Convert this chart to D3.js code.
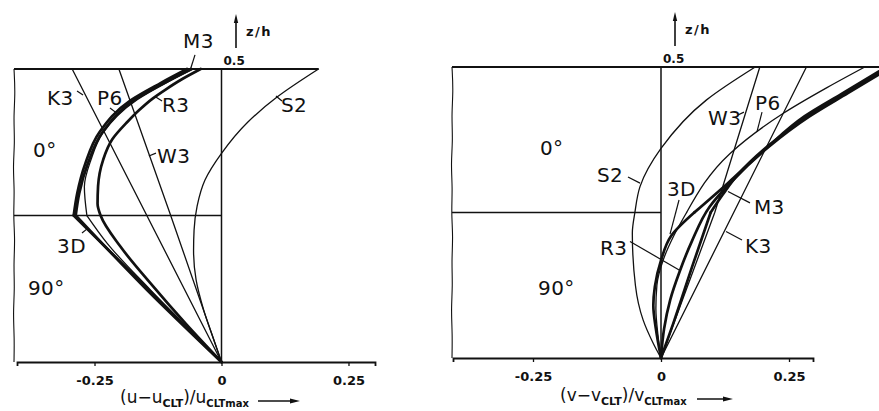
<!DOCTYPE html>
<html>
<head>
<meta charset="utf-8">
<script src="https://cdn.jsdelivr.net/npm/d3@7/dist/d3.min.js"></script>
<style>
  html, body { margin: 0; padding: 0; background: #fff; }
  svg { display: block; }
  text { font-family: "DejaVu Sans", "Liberation Sans", sans-serif; fill: #111; }
</style>
</head>
<body>
<svg id="chart" width="879" height="411"></svg>
<script>
// Through-thickness profiles of a [0/90] cross-ply laminate.
// Every point is [normalised displacement, z/h]; z/h = 0.5 is the top face.

const tickValues = [-0.25, 0, 0.25];
const tickLabels = ["-0.25", "0", "0.25"];
const topLabel = "0.5";
const layerNames = ["0°", "90°"];

// ---- in-plane displacement u ----
const u_S2 = [[0.191, 0.5], [0.110, 0.405], [0.052, 0.319], [0, 0.212], [-0.0325, 0.121], [-0.048, 0.032],
              [-0.054, -0.05], [-0.055, -0.12], [-0.05, -0.22], [-0.035, -0.323], [-0.015, -0.425], [0, -0.5]];
const u_3D_0 = [[-0.068, 0.5], [-0.12, 0.452], [-0.179, 0.393], [-0.24, 0.285], [-0.268, 0.178], [-0.284, 0.076], [-0.291, 0]];
const u_3D_90 = [[-0.291, 0], [0, -0.5]];
const u_M3_0 = [[-0.060, 0.5], [-0.113, 0.452], [-0.173, 0.392], [-0.234, 0.285], [-0.263, 0.178], [-0.280, 0.076], [-0.287, 0]];
const u_M3_90 = [[-0.287, 0], [-0.146, -0.255], [0, -0.5]];
const u_P6_0 = [[-0.055, 0.5], [-0.106, 0.455], [-0.166, 0.395], [-0.234, 0.28], [-0.257, 0.19], [-0.270, 0.098], [-0.265, 0]];
const u_P6_90 = [[-0.265, 0], [-0.225, -0.095], [-0.14, -0.254], [0, -0.5]];
const u_R3 = [[-0.041, 0.5], [-0.078, 0.465], [-0.11, 0.43], [-0.135, 0.4], [-0.162, 0.36], [-0.185, 0.32],
              [-0.215, 0.26], [-0.233, 0.19], [-0.243, 0.1], [-0.244, 0.04], [-0.238, 0], [-0.199, -0.106],
              [-0.14, -0.231], [-0.07, -0.37], [0, -0.5]];
const u_K3 = [[-0.294, 0.5], [0, -0.5]];
const u_W3 = [[-0.202, 0.5], [-0.100, 0], [0, -0.5]];

// ---- in-plane displacement v ----
const v_S2 = [[0.184, 0.5], [0.089, 0.387], [0, 0.22], [-0.041, 0.089], [-0.051, 0], [-0.056, -0.071],
              [-0.05, -0.25], [-0.035, -0.369], [-0.015, -0.45], [0, -0.5]];
const v_K3 = [[0.284, 0.5], [0, -0.5]];
const v_W3 = [[0.193, 0.5], [0.105, 0], [0, -0.5]];
const v_P6_0 = [[0.398, 0.5], [0.325, 0.43], [0.239, 0.341], [0.135, 0.203], [0.05, 0]];
const v_P6_90 = [[0.05, 0], [0.025, -0.08], [0.005, -0.16], [-0.008, -0.25], [-0.01, -0.33], [-0.006, -0.42], [0, -0.5]];
const v_3D_0 = [[0.44, 0.5], [0.355, 0.41], [0.28, 0.33], [0.205, 0.22], [0.13, 0.1], [0.065, 0]];
const v_3D_90 = [[0.065, 0], [0.02, -0.08], [0, -0.165], [-0.012, -0.255], [-0.015, -0.32], [-0.01, -0.4], [0, -0.5]];
const v_M3_0 = [[0.445, 0.5], [0.36, 0.41], [0.285, 0.329], [0.207, 0.226], [0.15, 0.13], [0.12, 0.06], [0.097, 0]];
const v_M3_90 = [[0.097, 0], [0.063, -0.175], [0.024, -0.381], [0, -0.5]];
const v_R3 = [[0.45, 0.5], [0.365, 0.41], [0.29, 0.33], [0.21, 0.225], [0.14, 0.11], [0.095, 0.02], [0.06, -0.1],
              [0.037, -0.2], [0.018, -0.3], [0.006, -0.4], [0, -0.5]];

// curve sets: each theory is one or more smooth pieces (layerwise theories break at the interface)
const uCurves = [
  { pieces: [u_S2], heavy: false },
  { pieces: [u_K3], heavy: false, straight: true },
  { pieces: [u_W3], heavy: false, straight: true },
  { pieces: [u_P6_0, u_P6_90], heavy: false },
  { pieces: [u_R3], heavy: true },
  { pieces: [u_M3_0, u_M3_90], heavy: true },
  { pieces: [u_3D_0, u_3D_90], heavy: true }
];
const vCurves = [
  { pieces: [v_S2], heavy: false },
  { pieces: [v_K3], heavy: false, straight: true },
  { pieces: [v_W3], heavy: false, straight: true },
  { pieces: [v_P6_0, v_P6_90], heavy: false },
  { pieces: [v_R3], heavy: true },
  { pieces: [v_M3_0, v_M3_90], heavy: true },
  { pieces: [v_3D_0, v_3D_90], heavy: true }
];

// curve names placed in [value, z/h] coordinates, with their leader lines
const uNotes = [
  { t: "M3", at: [-0.0758, 0.572], lead: [[-0.0522, 0.548], [-0.061, 0.5]] },
  { t: "K3", at: [-0.3435, 0.377], lead: [[-0.2844, 0.425], [-0.2726, 0.411]] },
  { t: "P6", at: [-0.245, 0.377], lead: [[-0.2195, 0.367], [-0.2037, 0.346]] },
  { t: "R3", at: [-0.117, 0.353], lead: [[-0.131, 0.406], [-0.117, 0.391]] },
  { t: "W3", at: [-0.127, 0.179], lead: [[-0.143, 0.203], [-0.129, 0.213]] },
  { t: "S2", at: [0.117, 0.353], lead: [[0.1073, 0.408], [0.119, 0.391]] },
  { t: "3D", at: [-0.3238, -0.128], lead: [[-0.2746, -0.06], [-0.2628, -0.043]] },
  { t: layerNames[0], at: [-0.371, 0.2] },
  { t: layerNames[1], at: [-0.381, -0.271] }
];
const vNotes = [
  { t: "S2", at: [-0.125, 0.105], lead: [[-0.0645, 0.122], [-0.041, 0.101]] },
  { t: "3D", at: [0.0117, 0.057], lead: [[0.0352, 0.043], [0.0176, -0.074]] },
  { t: "W3", at: [0.0918, 0.301], lead: [[0.1504, 0.335], [0.162, 0.345]] },
  { t: "P6", at: [0.1836, 0.352], lead: [[0.1973, 0.345], [0.1875, 0.278]] },
  { t: "M3", at: [0.1816, -0.005], lead: [[0.1309, 0.072], [0.1738, 0.033]] },
  { t: "K3", at: [0.164, -0.139], lead: [[0.127, -0.065], [0.1582, -0.0945]] },
  { t: "R3", at: [-0.1191, -0.146], lead: [[-0.0605, -0.0997], [0.0371, -0.199]] },
  { t: layerNames[0], at: [-0.2363, 0.198] },
  { t: layerNames[1], at: [-0.2402, -0.2835] }
];

const svg = d3.select("#chart");
const ink = "#111";

function drawPanel(cfg) {
  const { x, z, curves, notes, sym, left, axisRight, topRight, titleX, titleY, arrowX, arrowTop, arrowBottom } = cfg;
  const g = svg.append("g");
  const x0 = x(0);

  // break line along the left edge of the section
  const wiggle = [0, 1.3, -0.5, 0.9, -1.1, 0.6, -0.7, 1.1, -0.4, 0.7, -0.9, 0.4, 0];
  const yTop = z(0.5), yBot = z(-0.5);
  const breakLine = d3.line().x(d => d[0]).y(d => d[1]).curve(d3.curveBasis);
  g.append("path")
    .attr("d", breakLine(wiggle.map((w, i) => [left + w, yTop + (yBot - yTop) * i / (wiggle.length - 1)])))
    .attr("fill", "none").attr("stroke", ink).attr("stroke-width", 1.1);

  // top face, layer interface and the zero line
  g.append("line").attr("x1", left).attr("x2", topRight).attr("y1", yTop).attr("y2", yTop)
    .attr("stroke", ink).attr("stroke-width", 2);
  g.append("line").attr("x1", left).attr("x2", x0).attr("y1", z(0)).attr("y2", z(0))
    .attr("stroke", ink).attr("stroke-width", 1.6);
  g.append("line").attr("x1", x0).attr("x2", x0).attr("y1", yTop).attr("y2", yBot)
    .attr("stroke", ink).attr("stroke-width", 1.5);

  // bottom axis
  const ax = g.append("g").attr("transform", `translate(0,${yBot})`)
    .call(d3.axisBottom(x).tickValues(tickValues).tickFormat((d, i) => tickLabels[i])
      .tickSizeOuter(0).tickSize(4).tickPadding(10));
  ax.select(".domain").attr("stroke", ink).attr("stroke-width", 1.8);
  ax.selectAll(".tick line").attr("stroke", ink).attr("stroke-width", 1.3);
  ax.selectAll(".tick text").attr("font-family", "DejaVu Sans, sans-serif")
    .attr("font-weight", "bold").attr("font-size", 13).attr("fill", ink);

  // z/h arrow and the 0.5 mark
  g.append("line").attr("x1", arrowX).attr("x2", arrowX).attr("y1", arrowBottom).attr("y2", arrowTop + 6)
    .attr("stroke", ink).attr("stroke-width", 1.6);
  g.append("path").attr("d", `M${arrowX - 2.2},${arrowTop + 9} L${arrowX},${arrowTop} L${arrowX + 2.2},${arrowTop + 9} Z`)
    .attr("fill", ink);
  g.append("text").attr("x", arrowX + 10).attr("y", arrowTop + 22).attr("font-size", 13)
    .attr("font-weight", "bold").attr("letter-spacing", 1.5).text("z/h");
  g.append("text").attr("x", x0 + 2).attr("y", yTop - 4).attr("font-size", 12)
    .attr("font-weight", "bold").text(topLabel);

  // profiles
  const smooth = d3.line().x(d => x(d[0])).y(d => z(d[1])).curve(d3.curveMonotoneY);
  const straight = d3.line().x(d => x(d[0])).y(d => z(d[1]));
  curves.forEach(c => {
    c.pieces.forEach(p => {
      g.append("path").attr("d", (c.straight ? straight : smooth)(p))
        .attr("fill", "none").attr("stroke", ink)
        .attr("stroke-width", c.heavy ? 2.7 : 1.3)
        .attr("stroke-linejoin", "round").attr("stroke-linecap", "round");
    });
  });

  // names and leaders
  notes.forEach(n => {
    if (n.lead) {
      g.append("line")
        .attr("x1", x(n.lead[0][0])).attr("y1", z(n.lead[0][1]))
        .attr("x2", x(n.lead[1][0])).attr("y2", z(n.lead[1][1]))
        .attr("stroke", ink).attr("stroke-width", 1.2);
    }
    g.append("text").attr("x", x(n.at[0])).attr("y", z(n.at[1]))
      .attr("font-size", 20).attr("letter-spacing", 0.4).text(n.t);
  });

  // axis title with subscripts and arrow
  const t = g.append("text").attr("x", titleX).attr("y", titleY).attr("font-size", 17);
  t.append("tspan").text("(" + sym + "−" + sym);
  t.append("tspan").attr("font-size", 11).attr("font-weight", "bold").attr("dy", 4).text("CLT");
  t.append("tspan").attr("dy", -4).text(")/" + sym);
  t.append("tspan").attr("font-size", 10).attr("font-weight", "bold").attr("dy", 4).text("CLTmax");
  g.append("line").attr("x1", axisRight[0]).attr("x2", axisRight[1] - 6).attr("y1", axisRight[2]).attr("y2", axisRight[2])
    .attr("stroke", ink).attr("stroke-width", 1.5);
  g.append("path")
    .attr("d", `M${axisRight[1] - 10},${axisRight[2] - 2.5} L${axisRight[1]},${axisRight[2]} L${axisRight[1] - 10},${axisRight[2] + 2.5} Z`)
    .attr("fill", ink);
}

drawPanel({
  x: d3.scaleLinear().domain([-0.4026, 0.3022]).range([17, 375]),
  z: d3.scaleLinear().domain([-0.5, 0.5]).range([362, 69]),
  curves: uCurves, notes: uNotes, sym: "u",
  left: 14, topRight: 318.5,
  titleX: 120, titleY: 403, axisRight: [258, 300, 401],
  arrowX: 236, arrowTop: 14, arrowBottom: 48
});

drawPanel({
  x: d3.scaleLinear().domain([-0.40625, 0.296875]).range([453, 813]),
  z: d3.scaleLinear().domain([-0.5, 0.5]).range([358, 67]),
  curves: vCurves, notes: vNotes, sym: "v",
  left: 452, topRight: 879,
  titleX: 560, titleY: 401, axisRight: [697, 733, 399],
  arrowX: 675, arrowTop: 12, arrowBottom: 46
});
</script>
</body>
</html>
